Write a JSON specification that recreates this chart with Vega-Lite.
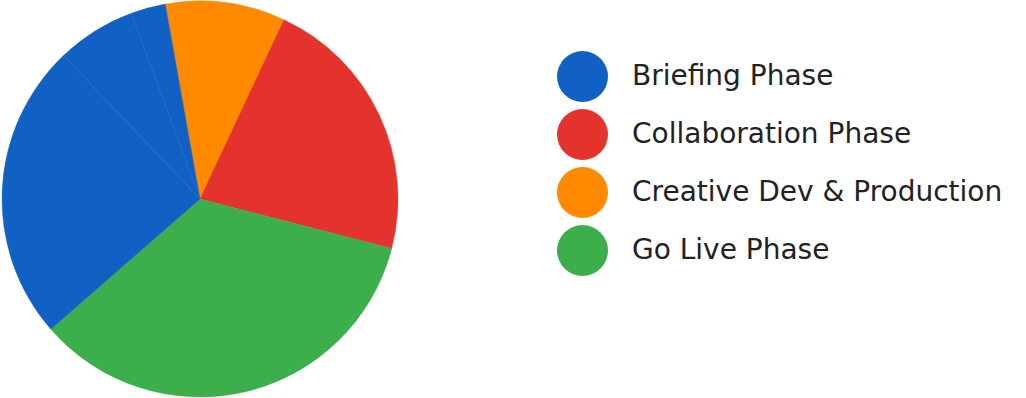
{
  "$schema": "https://vega.github.io/schema/vega-lite/v6.json",
  "width": 400,
  "height": 398,
  "padding": {"left": 0, "top": 0, "right": 626, "bottom": 0},
  "autosize": {"type": "none"},
  "background": "white",
  "data": {
    "values": [
      {"phase": "Creative Dev & Production", "seq": 1, "value": 35.2},
      {"phase": "Collaboration Phase", "seq": 2, "value": 79.4},
      {"phase": "Go Live Phase", "seq": 3, "value": 124.4},
      {"phase": "Briefing Phase", "seq": 4, "value": 87.5},
      {"phase": "Briefing Phase", "seq": 5, "value": 23.3},
      {"phase": "Briefing Phase", "seq": 6, "value": 10.2}
    ]
  },
  "mark": {"type": "arc", "outerRadius": 198, "strokeWidth": 0.4},
  "encoding": {
    "theta": {
      "field": "value",
      "type": "quantitative",
      "stack": true,
      "scale": {"range": [-0.1763, 6.1069]}
    },
    "order": {"field": "seq", "type": "quantitative", "sort": "ascending"},
    "stroke": {
      "field": "phase",
      "type": "nominal",
      "scale": {
        "domain": ["Briefing Phase", "Collaboration Phase", "Creative Dev & Production", "Go Live Phase"],
        "range": ["#1160c4", "#e4332d", "#ff8a00", "#3cae4b"]
      },
      "legend": null
    },
    "color": {
      "field": "phase",
      "type": "nominal",
      "scale": {
        "domain": ["Briefing Phase", "Collaboration Phase", "Creative Dev & Production", "Go Live Phase"],
        "range": ["#1160c4", "#e4332d", "#ff8a00", "#3cae4b"]
      },
      "legend": {
        "title": null,
        "orient": "none",
        "legendX": 557,
        "legendY": 51,
        "symbolType": "circle",
        "symbolSize": 2600,
        "symbolStrokeWidth": 0,
        "labelFont": "DejaVu Sans",
        "labelFontSize": 28,
        "labelColor": "#222222",
        "labelOffset": 24,
        "rowPadding": 7,
        "labelLimit": 500
      }
    }
  },
  "config": {"view": {"stroke": null}}
}
